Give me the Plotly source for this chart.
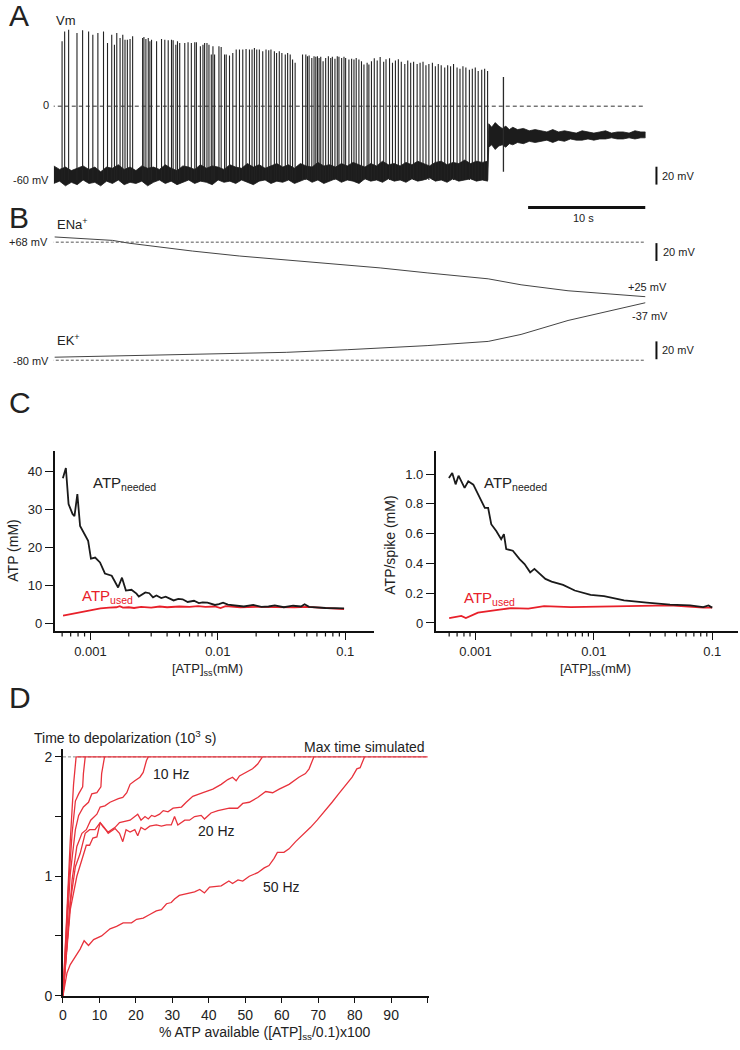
import plotly.graph_objects as go

W, H = 740, 1050
FONT = "Arial, Liberation Sans, Helvetica, sans-serif"
BLACK = "#1a1a1a"
RED = "#e8202a"

# ---------------- Panel A : membrane potential (s, mV) ----------------
SPIKE_T = [0.71, 0.93, 1.27, 1.98, 2.46, 2.97, 3.33, 3.76, 4.24, 4.58, 4.94, 5.17, 5.37, 5.65,
           5.88, 6.07, 6.27, 6.50, 6.72, 7.57, 7.68, 7.85, 8.05, 8.19, 8.33, 8.76, 9.18, 9.46,
           9.75, 10.03, 10.17, 10.40, 10.54, 10.73, 11.16, 11.44, 11.72, 12.01, 12.15, 12.49,
           12.71, 12.85, 13.05, 13.22, 13.42, 13.56, 13.70, 14.07, 14.26, 14.55, 14.69, 14.97,
           15.25, 15.54, 15.82, 16.10, 16.38, 16.67, 16.89, 17.09, 17.29, 17.51, 17.80, 18.08,
           18.31, 18.50, 18.79, 18.98, 19.21, 19.43, 19.72, 19.92, 20.14, 20.34, 20.56, 21.19,
           21.47, 21.61, 21.75, 21.98, 22.17, 22.32, 22.46, 22.60, 22.74, 22.94, 23.16, 23.39,
           23.59, 23.73, 23.95, 24.15, 24.29, 24.52, 24.72, 24.86, 25.14, 25.37, 25.57, 25.76,
           25.99, 26.21, 26.42, 26.69, 26.84, 27.06,
           27.30, 27.55, 27.80, 28.10, 28.30, 28.60, 28.85, 29.10, 29.35, 29.60, 29.90, 30.15,
           30.40, 30.65, 30.95, 31.20, 31.45, 31.70, 31.95, 32.25, 32.50, 32.75, 33.00, 33.30,
           33.55, 33.80, 34.05, 34.35, 34.60, 34.85, 35.10, 35.40, 35.65, 35.90, 36.15, 36.45,
           36.70, 36.95]
SPIKE_PEAK = [55.4, 63.8, 65.3, 62.4, 64.8, 63.8, 61.0, 62.4, 63.8, 54.0, 61.0, 52.5, 62.4, 58.2,
              61.0, 56.8, 56.8, 57.3, 59.6, 58.2, 59.0, 57.3, 58.2, 55.4, 56.8, 55.4, 57.3, 56.8,
              56.2, 56.8, 56.2, 52.5, 55.4, 54.0, 54.0, 54.5, 54.0, 54.5, 54.5, 51.1,
              52.5, 54.0, 54.0, 52.5, 44.1, 51.1, 44.1, 51.1, 50.5, 44.1, 44.1, 43.2,
              45.5, 48.3, 48.3, 48.3, 48.9, 48.3, 48.3, 49.7, 48.3, 48.3, 46.9, 48.3,
              47.7, 48.3, 46.9, 45.5, 46.9, 45.5, 44.1, 45.5, 44.1, 39.8, 37.0, 44.1,
              44.1, 42.7, 43.2, 41.2, 42.7, 42.1, 42.7, 41.2, 42.1, 38.4, 41.2, 42.7,
              41.2, 42.1, 40.4, 42.7, 42.1, 41.2, 42.1, 41.2, 39.8, 40.4, 39.8, 41.2,
              39.8, 38.4, 35.6, 37.0, 35.6, 38.4,
              41.0, 39.0, 42.0, 38.0, 40.0, 41.0, 37.0, 39.0, 40.0, 38.0, 36.0, 39.0,
              37.0, 38.0, 36.0, 37.0, 38.0, 35.0, 36.0, 37.0, 34.0, 36.0, 35.0, 33.0,
              35.0, 34.0, 36.0, 33.0, 32.0, 34.0, 33.0, 31.0, 32.0, 33.0, 30.0, 31.0,
              32.0, 30.0]
SPIKE_TROUGH = -63.0
LAST_SPIKE_T = [38.3]
LAST_SPIKE_PEAK = [25.0]
LAST_SPIKE_TROUGH = [-56.0]

BAND_T = [0, 0.5, 1, 1.5, 2, 2.5, 3, 3.5, 4, 4.5, 5, 5.5, 6, 6.5, 7, 7.5, 8, 8.5, 9, 9.5,
          10, 10.5, 11, 11.5, 12, 12.5, 13, 13.5, 14, 14.5, 15, 15.5, 16, 16.5, 17, 17.5, 18,
          18.5, 19, 19.5, 20, 20.5, 21, 21.5, 22, 22.5, 23, 23.5, 24, 24.5, 25, 25.5, 26, 26.5,
          27, 27.5, 28, 28.5, 29, 29.5, 30, 30.5, 31, 31.5, 32, 32.5, 33, 33.5, 34, 34.5, 35,
          35.5, 36, 36.5, 36.95,
          37.05, 37.3, 37.6, 37.9, 38.2, 38.5, 38.8, 39.1, 39.5, 40, 40.5, 41, 41.5, 42, 42.5,
          43, 43.5, 44, 44.5, 45, 45.5, 46, 46.5, 47, 47.5, 48, 48.5, 49, 49.5, 50, 50.4]
BAND_HI = [-51, -54, -52, -55, -53, -51, -54, -52, -56, -52, -53, -50, -54, -52, -55, -51, -53,
           -52, -54, -50, -53, -55, -51, -52, -54, -50, -53, -51, -52, -54, -50, -52, -53, -49,
           -52, -50, -53, -51, -49, -52, -50, -53, -49, -51, -52, -48, -51, -50, -52, -49, -51,
           -48, -50, -52, -49, -51, -47, -50, -49, -51, -48, -50, -47, -49, -51, -48, -47, -50,
           -48, -49, -46, -49, -47, -48, -47,
           -15, -18, -14, -17, -19, -17, -20, -18, -20, -19, -21, -20, -21, -22, -20, -22, -21,
           -22, -23, -21, -22, -23, -22, -21, -23, -22, -22, -23, -21, -22, -22]
BAND_LO = [-66, -64, -68, -65, -67, -63, -66, -65, -68, -64, -66, -63, -67, -65, -66, -64, -68,
           -65, -63, -66, -64, -67, -65, -63, -66, -64, -65, -67, -63, -65, -64, -66, -63, -65,
           -67, -64, -63, -66, -64, -65, -63, -66, -64, -62, -65, -63, -66, -64, -62, -65, -63,
           -64, -66, -62, -64, -63, -65, -62, -64, -63, -65, -62, -64, -63, -61, -64, -63, -65,
           -62, -64, -63, -62, -64, -63, -64,
           -35, -33, -37, -34, -33, -35, -32, -33, -31, -32, -30, -31, -30, -29, -31, -29, -30,
           -28, -29, -29, -28, -29, -28, -28, -27, -28, -28, -27, -28, -27, -27]
VM_REF = 0

# ---------------- Panel B : reversal potentials (s, mV) ----------------
ENA_T = [0.08, 2.2, 5.0, 6.4, 7.8, 11.8, 15.8, 19.8, 23.8, 27.8, 31.8, 37.0, 39.8, 43.8, 50.4]
ENA_V = [72.1, 71.1, 69.4, 67.2, 65.5, 61.0, 57.1, 53.9, 50.8, 47.7, 43.8, 39.1, 34.4, 29.7, 25.0]
EK_T = [0.08, 11.8, 19.8, 25.0, 31.8, 37.0, 39.8, 43.8, 50.4]
EK_V = [-77.7, -75.5, -74.0, -72.0, -68.9, -65.7, -60.4, -49.8, -36.3]
ENA_REF = 68
EK_REF = -80

# ---------------- Panel C : ATP vs [ATP]ss ----------------
C1_X_NEEDED = [0.000608, 0.000642, 0.000674, 0.000724, 0.00075, 0.00079, 0.00083, 0.00091,
               0.00096, 0.00101, 0.00109, 0.00119, 0.0013, 0.00147, 0.00165, 0.00177, 0.0019,
               0.0021, 0.0023, 0.0024, 0.0027, 0.0029, 0.0031, 0.0033, 0.0036, 0.0039, 0.0042,
               0.0045, 0.0049, 0.0053, 0.0058, 0.0065, 0.0071, 0.0076, 0.0083, 0.0095, 0.0102,
               0.011, 0.012, 0.0137, 0.016, 0.019, 0.022, 0.025, 0.028, 0.033, 0.039, 0.045,
               0.048, 0.052, 0.07, 0.098]
C1_Y_NEEDED = [38.2, 40.9, 31.4, 28.8, 28.2, 34.0, 25.6, 23.0, 21.7, 17.0, 17.3, 16.0, 13.1,
               12.5, 9.4, 12.0, 8.6, 8.8, 7.8, 7.0, 8.1, 7.9, 6.8, 7.3, 6.6, 7.0, 6.5, 6.0, 6.4,
               6.3, 5.6, 5.9, 5.3, 5.5, 5.4, 4.8, 5.0, 5.4, 4.9, 4.7, 4.4, 4.8, 4.3, 4.4, 4.7,
               4.2, 4.6, 4.4, 5.0, 4.3, 4.0, 3.9]
C1_X_USED = [0.00061, 0.0007, 0.0008, 0.0009, 0.001, 0.0012, 0.0014, 0.0016, 0.0017, 0.0018,
             0.002, 0.0022, 0.0025, 0.003, 0.0035, 0.004, 0.005, 0.006, 0.007, 0.008, 0.0095,
             0.0105, 0.0115, 0.013, 0.015, 0.02, 0.03, 0.04, 0.05, 0.07, 0.098]
C1_Y_USED = [2.0, 2.4, 2.8, 3.2, 3.5, 3.9, 4.1, 4.2, 4.5, 4.1, 4.2, 4.0, 4.3, 4.1, 4.4, 4.2,
             4.4, 4.3, 4.5, 4.3, 4.4, 4.0, 4.5, 4.3, 4.2, 4.3, 4.2, 4.2, 4.3, 4.0, 3.7]

C2_X_NEEDED = [0.000597, 0.000637, 0.00068, 0.00072, 0.00081, 0.00087, 0.00096, 0.00105,
               0.0012, 0.00128, 0.00136, 0.0015, 0.00165, 0.00174, 0.00182, 0.00207, 0.00236,
               0.0026, 0.0029, 0.00315, 0.0036, 0.0039, 0.0044, 0.0055, 0.0069, 0.0094, 0.0122,
               0.018, 0.028, 0.044, 0.065, 0.084, 0.093, 0.1]
C2_Y_NEEDED = [0.973, 1.007, 0.931, 0.989, 0.907, 0.951, 0.929, 0.865, 0.773, 0.773, 0.663,
               0.618, 0.563, 0.596, 0.496, 0.485, 0.429, 0.396, 0.34, 0.363, 0.323, 0.296, 0.278,
               0.256, 0.218, 0.189, 0.18, 0.151, 0.136, 0.123, 0.118, 0.107, 0.118, 0.103]
C2_X_USED = [0.0006, 0.00076, 0.00083, 0.00105, 0.0016, 0.002, 0.0028, 0.0038, 0.0064,
             0.0122, 0.023, 0.044, 0.084, 0.1]
C2_Y_USED = [0.033, 0.047, 0.033, 0.069, 0.089, 0.1, 0.096, 0.113, 0.107, 0.111, 0.113, 0.118,
             0.103, 0.103]

# ---------------- Panel D : time to depolarization (10^3 s) ----------------
D1_X = [0, 1.1, 2.0, 2.9, 3.6]
D1_Y = [0, 0.75, 1.30, 1.77, 2.0]
D2_X = [0, 1.5, 2.5, 3.4, 4.3, 5.4, 5.6, 6.1]
D2_Y = [0, 0.91, 1.36, 1.63, 1.69, 1.75, 1.86, 2.0]
D3_X = [0, 2.0, 3.4, 4.3, 5.6, 7.0, 7.9, 9.3, 10.4, 10.6, 11.4]
D3_Y = [0, 1.02, 1.39, 1.51, 1.58, 1.62, 1.69, 1.70, 1.75, 1.86, 2.0]
D4_X = [0, 2.5, 3.8, 5.2, 6.4, 7.6, 9.3, 10.2, 11.5, 12.9, 15.2, 16.4, 17.5, 18.4, 19.7, 21.1,
        22.0, 22.9, 23.4]
D4_Y = [0, 0.97, 1.25, 1.36, 1.39, 1.47, 1.52, 1.58, 1.59, 1.62, 1.65, 1.66, 1.70, 1.77, 1.80,
        1.83, 1.87, 1.97, 2.0]
D5_X = [0, 2.0, 3.4, 4.7, 6.1, 7.3, 8.8, 10.2, 11.1, 12.4, 14.3, 15.5, 18.4, 19.7, 20.5, 21.4,
        22.5, 23.4, 24.3, 25.2, 26.5, 27.5, 28.8, 30.2, 32.5, 33.8, 35.6, 38.4, 41.1, 43.4, 45.2,
        46.5, 47.5, 48.4, 50.2, 52.0, 53.4, 54.7]
D5_Y = [0, 0.78, 1.08, 1.19, 1.36, 1.39, 1.39, 1.45, 1.41, 1.37, 1.41, 1.45, 1.47, 1.50, 1.52,
        1.47, 1.50, 1.48, 1.51, 1.50, 1.52, 1.55, 1.54, 1.57, 1.58, 1.62, 1.67, 1.70, 1.73, 1.77,
        1.81, 1.83, 1.80, 1.84, 1.87, 1.90, 1.94, 2.0]
D6_X = [0, 2.0, 3.8, 5.6, 6.4, 7.3, 8.2, 9.3, 10.2, 11.3, 12.4, 14.3, 15.5, 16.4, 17.3, 18.4,
        19.7, 20.5, 21.4, 22.5, 23.8, 25.6, 27.0, 28.4, 29.7, 30.6, 31.5, 33.4, 34.7, 36.1, 37.9,
        38.8, 40.6, 42.5, 45.6, 47.9, 49.3, 51.1, 53.4, 55.6, 57.5, 59.3, 62.0, 64.7, 66.5, 67.5,
        68.8]
D6_Y = [0, 0.72, 1.0, 1.19, 1.26, 1.26, 1.32, 1.33, 1.45, 1.41, 1.36, 1.40, 1.36, 1.29, 1.39,
        1.37, 1.39, 1.34, 1.41, 1.39, 1.42, 1.43, 1.42, 1.43, 1.43, 1.50, 1.43, 1.47, 1.47, 1.50,
        1.51, 1.48, 1.53, 1.55, 1.57, 1.57, 1.61, 1.62, 1.66, 1.71, 1.70, 1.73, 1.77, 1.83, 1.86,
        1.90, 2.0]
D7_X = [0, 1.1, 2.0, 3.4, 4.7, 5.8, 7.0, 8.4, 10.6, 12.9, 14.7, 16.5, 18.8, 20.2, 22.0, 23.8,
        25.6, 27.0, 28.4, 29.7, 30.6, 31.9, 34.3, 36.1, 37.5, 38.8, 40.2, 43.4, 45.5, 46.5, 48.0,
        49.3, 51.1, 53.4, 55.2, 56.5, 57.9, 58.8, 60.6, 62.0, 63.8, 65.6, 67.9, 69.7, 72.0, 73.8,
        75.6, 77.5, 79.3, 80.6, 81.5, 82.7]
D7_Y = [0, 0.19, 0.26, 0.33, 0.39, 0.46, 0.42, 0.47, 0.50, 0.56, 0.58, 0.61, 0.61, 0.64, 0.65,
        0.68, 0.71, 0.72, 0.77, 0.78, 0.81, 0.84, 0.86, 0.87, 0.89, 0.86, 0.91, 0.92, 0.96, 0.94,
        0.97, 0.96, 1.0, 1.03, 1.07, 1.09, 1.15, 1.20, 1.20, 1.23, 1.29, 1.34, 1.41, 1.47, 1.55,
        1.62, 1.69, 1.76, 1.83, 1.90, 1.91, 2.0]
D_CAP_X = [3.6, 100]
D_CAP_Y = [2.0, 2.0]
D_MAX_TIME = 2.0

C_MAJOR = [0.001, 0.01, 0.1]
C_MAJOR_TEXT = ["0.001", "0.01", "0.1"]
C_MINOR = [0.0006, 0.0007, 0.0008, 0.0009, 0.002, 0.003, 0.004, 0.005, 0.006, 0.007, 0.008,
           0.009, 0.02, 0.03, 0.04, 0.05, 0.06, 0.07, 0.08, 0.09]
D_XTICKS = [0, 10, 20, 30, 40, 50, 60, 70, 80, 90]
D_XMINOR = [100]
D_YTICKS = [0, 1, 2]
D_YMINOR = [0.5, 1.5]


def xd(p0, p1):
    return [p0 / W, p1 / W]


def yd(ptop, pbot):
    return [1 - pbot / H, 1 - ptop / H]


def px(p):
    return p / W


def py(p):
    return 1 - p / H


fig = go.Figure()

# ---- A
bx, by = [], []
for t, pk in zip(SPIKE_T, SPIKE_PEAK):
    bx += [t, t, None]
    by += [SPIKE_TROUGH, pk, None]
fig.add_trace(go.Scatter(x=BAND_T + BAND_T[::-1], y=BAND_HI + BAND_LO[::-1], fill="toself",
                         fillcolor="#1c1c1c", line=dict(color="#1c1c1c", width=0.8),
                         mode="lines", xaxis="x", yaxis="y", hoverinfo="skip"))
fig.add_trace(go.Scatter(x=bx, y=by, mode="lines", line=dict(color="#222", width=1.1),
                         xaxis="x", yaxis="y", hoverinfo="skip"))
lx, ly = [], []
for t, pk, tr in zip(LAST_SPIKE_T, LAST_SPIKE_PEAK, LAST_SPIKE_TROUGH):
    lx += [t, t, None]
    ly += [tr, pk, None]
fig.add_trace(go.Scatter(x=lx, y=ly, mode="lines", line=dict(color="#2a2a2a", width=1.3),
                         xaxis="x", yaxis="y", hoverinfo="skip"))

# ---- B
fig.add_trace(go.Scatter(x=ENA_T, y=ENA_V, mode="lines", line=dict(color="#444", width=1),
                         xaxis="x2", yaxis="y2"))
fig.add_trace(go.Scatter(x=EK_T, y=EK_V, mode="lines", line=dict(color="#444", width=1),
                         xaxis="x3", yaxis="y3"))

# ---- C
fig.add_trace(go.Scatter(x=C1_X_USED, y=C1_Y_USED, mode="lines", line=dict(color=RED, width=1.8),
                         xaxis="x4", yaxis="y4"))
fig.add_trace(go.Scatter(x=C1_X_NEEDED, y=C1_Y_NEEDED, mode="lines",
                         line=dict(color=BLACK, width=1.8), xaxis="x4", yaxis="y4"))
fig.add_trace(go.Scatter(x=C2_X_USED, y=C2_Y_USED, mode="lines", line=dict(color=RED, width=1.8),
                         xaxis="x5", yaxis="y5"))
fig.add_trace(go.Scatter(x=C2_X_NEEDED, y=C2_Y_NEEDED, mode="lines",
                         line=dict(color=BLACK, width=1.8), xaxis="x5", yaxis="y5"))

# ---- D
fig.add_trace(go.Scatter(x=[0, 100], y=[D_MAX_TIME, D_MAX_TIME], mode="lines",
                         line=dict(color="#888", width=1, dash="3px,2px"), xaxis="x6", yaxis="y6"))
for xs, ys in [(D1_X, D1_Y), (D2_X, D2_Y), (D3_X, D3_Y), (D4_X, D4_Y), (D5_X, D5_Y),
               (D6_X, D6_Y), (D7_X, D7_Y), (D_CAP_X, D_CAP_Y)]:
    fig.add_trace(go.Scatter(x=xs, y=ys, mode="lines", line=dict(color="#e8323c", width=1.3),
                             xaxis="x6", yaxis="y6"))

hidden = dict(visible=False, showgrid=False, zeroline=False)
tickfont = dict(family=FONT, size=13, color="#222")
tickfont14 = dict(family=FONT, size=14, color="#222")
axline = dict(showline=True, linecolor="#111", linewidth=1.6, ticks="outside",
              tickcolor="#111", tickwidth=1.2, showgrid=False, zeroline=False)

fig.update_layout(
    width=W, height=H, margin=dict(l=0, r=0, t=0, b=0),
    paper_bgcolor="white", plot_bgcolor="white", showlegend=False,
    font=dict(family=FONT, color="#222"),
    xaxis=dict(domain=xd(50, 645), range=[0, 50.4], anchor="y", **hidden),
    yaxis=dict(domain=yd(20, 200), range=[-78.8, 73.7], anchor="x", **hidden),
    xaxis2=dict(domain=xd(50, 645), range=[0, 50.4], anchor="y2", **hidden),
    yaxis2=dict(domain=yd(215, 305), range=[20.3, 90.7], anchor="x2", **hidden),
    xaxis3=dict(domain=xd(50, 645), range=[0, 50.4], anchor="y3", **hidden),
    yaxis3=dict(domain=yd(300, 375), range=[-89.05, -32.5], anchor="x3", **hidden),
    xaxis4=dict(type="log", domain=xd(51, 372), range=[-3.28, -0.774], anchor="y4",
                tickvals=C_MAJOR, ticktext=C_MAJOR_TEXT, ticklen=7, tickfont=tickfont, **axline),
    yaxis4=dict(domain=yd(454, 636), range=[-2.1, 45.5], anchor="x4",
                tickvals=[0, 10, 20, 30, 40], ticklen=8, tickfont=tickfont, **axline),
    xaxis5=dict(type="log", domain=xd(434, 738), range=[-3.336, -0.782], anchor="y5",
                tickvals=C_MAJOR, ticktext=C_MAJOR_TEXT, ticklen=7, tickfont=tickfont, **axline),
    yaxis5=dict(domain=yd(454, 636), range=[-0.055, 1.158], anchor="x5",
                tickvals=[0, 0.2, 0.4, 0.6, 0.8, 1.0],
                ticktext=["0", "0.2", "0.4", "0.6", "0.8", "1.0"], ticklen=8, tickfont=tickfont,
                **axline),
    xaxis6=dict(domain=xd(59.3, 427), range=[0, 100.3], anchor="y6",
                tickvals=D_XTICKS, ticklen=6, tickfont=tickfont14,
                minor=dict(tickvals=D_XMINOR, ticks="outside", ticklen=6, tickcolor="#111",
                           tickwidth=1.2), **axline),
    yaxis6=dict(domain=yd(755, 1003.3), range=[0, 2.064], anchor="x6",
                tickvals=D_YTICKS, ticklen=6, tickfont=tickfont14,
                minor=dict(tickvals=D_YMINOR, ticks="outside", ticklen=6, tickcolor="#111",
                           tickwidth=1.2), **axline),
)

shapes = []
shapes.append(dict(type="line", xref="x", yref="y", x0=-0.25, x1=50.4, y0=VM_REF, y1=VM_REF,
                   line=dict(color="#333", width=1, dash="4px,3px")))
shapes.append(dict(type="line", xref="x2", yref="y2", x0=-0.25, x1=50.4, y0=ENA_REF, y1=ENA_REF,
                   line=dict(color="#555", width=1, dash="3px,2px")))
shapes.append(dict(type="line", xref="x3", yref="y3", x0=-0.25, x1=50.4, y0=EK_REF, y1=EK_REF,
                   line=dict(color="#555", width=1, dash="3px,2px")))
shapes.append(dict(type="line", xref="x", yref="paper", x0=40.4, x1=50.4, y0=py(209), y1=py(209),
                   line=dict(color="#111", width=3)))
for top, bot in [(168, 186), (245, 263), (344, 362)]:
    shapes.append(dict(type="line", xref="paper", yref="paper", x0=px(656), x1=px(656),
                       y0=py(top), y1=py(bot), line=dict(color="#111", width=2)))
# minor log ticks of panel C (short marks below the x axes)
for xref in ("x4", "x5"):
    for v in C_MINOR:
        shapes.append(dict(type="line", xref=xref, yref="paper", x0=v, x1=v,
                           y0=py(636.8), y1=py(641.5), line=dict(color="#111", width=1.2)))
fig.update_layout(shapes=shapes)

ann = []


def A(text, x, y, size=12, color="#222", xa="left", ya="middle", angle=0):
    ann.append(dict(text=text, x=px(x), y=py(y), xref="paper", yref="paper", showarrow=False,
                    xanchor=xa, yanchor=ya, textangle=angle,
                    font=dict(family=FONT, size=size, color=color)))


A("A", 3, 16, 30)
A("B", 3, 219, 30)
A("C", 3, 406, 30)
A("D", 3, 703, 30)
A("Vm", 50, 21, 13)
A("0", 47, 106, 11, xa="right")
A("-60 mV", 47, 181, 11, xa="right")
A("20 mV", 660, 177, 11)
A("10 s", 583, 220, 11, xa="center")
A("ENa<sup>+</sup>", 51, 226, 13)
A("+68 mV", 46, 244, 11, xa="right")
A("20 mV", 661, 254, 11)
A("+25 mV", 647, 289, 11, xa="center")
A("-37 mV", 650, 318, 11, xa="center")
A("EK<sup>+</sup>", 51, 343, 13)
A("-80 mV", 47, 364, 11, xa="right")
A("20 mV", 660, 353, 11)
A("ATP<sub>needed</sub>", 87, 487, 15)
A("ATP<sub>used</sub>", 76, 601, 15, color=RED)
A("ATP<sub>needed</sub>", 481, 487, 15)
A("ATP<sub>used</sub>", 460, 603, 15, color=RED)
A("ATP (mM)", 9, 555, 14, xa="center", angle=-90)
A("ATP/spike (mM)", 388, 549, 14, xa="center", angle=-90)
A("[ATP]<sub>ss</sub>(mM)", 205, 675, 13, xa="center")
A("[ATP]<sub>ss</sub>(mM)", 595, 675, 13, xa="center")
A("Time to depolarization (10<sup>3</sup> s)", 28, 743, 14)
A("Max time simulated", 425, 753, 14, xa="right")
A("10 Hz", 148, 780, 14)
A("20 Hz", 193, 837, 14)
A("50 Hz", 258, 894, 14)
A("% ATP available ([ATP]<sub>ss</sub>/0.1)x100", 262, 1041, 14, xa="center")
fig.update_layout(annotations=ann)

fig.write_html("out.html", config={"displayModeBar": False},
               post_script="document.body.style.margin='0px';")
